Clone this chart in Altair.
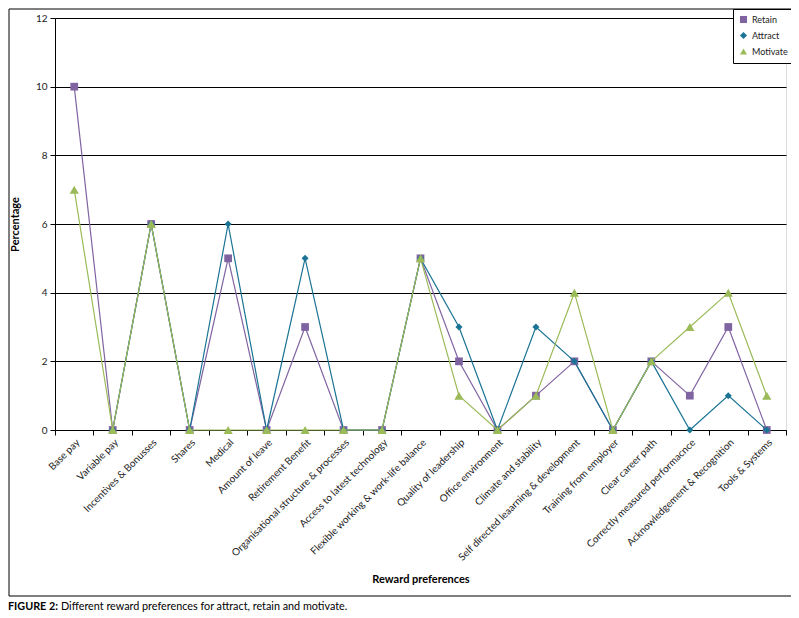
import altair as alt
import pandas as pd
import numpy as np

categories = [
    "Base pay", "Variable pay", "Incentives & Bonusses", "Shares", "Medical",
    "Amount of leave", "Retirement Benefit", "Organisational structure & processes",
    "Access to latest technology", "Flexible working & work-life balance",
    "Quality of leadership", "Office environment", "Climate and stability",
    "Self directed leaarning & development", "Training from employer",
    "Clear career path", "Correctly measured performacnce",
    "Acknowledgement & Recognition", "Tools & Systems",
]
retain = [10, 0, 6, 0, 5, 0, 3, 0, 0, 5, 2, 0, 1, 2, 0, 2, 1, 3, 0]
attract = [None, 0, 6, 0, 6, 0, 5, 0, 0, 5, 3, 0, 3, 2, 0, 2, 0, 1, 0]
motivate = [7, 0, 6, 0, 0, 0, 0, 0, 0, 5, 1, 0, 1, 4, 0, 2, 3, 4, 1]

series_names = ["Retain", "Attract", "Motivate"]
series_colors = ["#8064A2", "#1B7494", "#9BBB59"]
series_shapes = ["square", "diamond", "triangle-up"]
marker_sizes = [60, 50, 85]

rows = []
for name, vals in zip(series_names, [retain, attract, motivate]):
    for i, (c, v) in enumerate(zip(categories, vals)):
        rows.append({"category": c, "series": name, "value": (np.nan if v is None else v)})
df = pd.DataFrame(rows)

FONT = "Lato"
W, H = 731, 412

x_enc = alt.X("category:N", sort=categories,
              scale=alt.Scale(type="band", paddingInner=0, paddingOuter=0),
              axis=alt.Axis(title="Reward preferences", tickBand="extent", labelAngle=-45,
                            labelFontSize=10, labelColor="#222", labelFont=FONT,
                            tickColor="black", tickSize=5, domainColor="black",
                            labelPadding=2, labelLimit=300,
                            titleFont=FONT, titleFontSize=11, titleFontWeight="bold",
                            titleColor="black", titleY=149, titleBaseline="middle"))
y_enc = alt.Y("value:Q", scale=alt.Scale(domain=[0, 12], nice=False),
              axis=alt.Axis(title="Percentage", values=[0, 2, 4, 6, 8, 10, 12], format="d",
                            grid=True, gridColor="black", gridOpacity=1, gridWidth=1,
                            domainColor="black", tickColor="black", tickSize=5,
                            labelFontSize=10, labelColor="#222", labelFont=FONT, labelPadding=3,
                            titleFont=FONT, titleFontSize=11, titleFontWeight="bold",
                            titleColor="black", titleX=-35))

color_enc = alt.Color("series:N", scale=alt.Scale(domain=series_names, range=series_colors),
                      legend=alt.Legend(orient="none", legendX=678, legendY=-9, title=None,
                                        strokeColor="black", fillColor="white", padding=6,
                                        labelFontSize=9, labelFont=FONT, labelColor="#222",
                                        symbolSize=50, rowPadding=6, symbolStrokeWidth=0))
shape_enc = alt.Shape("series:N", scale=alt.Scale(domain=series_names, range=series_shapes))

layers = []
for name, msize in zip(series_names, marker_sizes):
    sub = df[df["series"] == name]
    base = alt.Chart(sub)
    line = base.mark_line(strokeWidth=1.2).encode(x=x_enc, y=y_enc, color=color_enc)
    pts = base.mark_point(filled=True, size=msize, opacity=1).encode(
        x=x_enc, y=y_enc, color=color_enc, shape=shape_enc)
    layers += [line, pts]

one = pd.DataFrame({"a": [0]})
border = alt.Chart(one).mark_rect(fill=None, stroke="black", strokeWidth=1).encode(
    x=alt.value(-46), x2=alt.value(742), y=alt.value(-9), y2=alt.value(578))
cap_bold = alt.Chart(one).mark_text(align="left", baseline="middle", font=FONT, fontSize=10.8,
                                    fontWeight="bold", color="black").encode(
    x=alt.value(-47), y=alt.value(589), text=alt.value("FIGURE 2:"))
cap_rest = alt.Chart(one).mark_text(align="left", baseline="middle", font=FONT, fontSize=10.8,
                                    color="black").encode(
    x=alt.value(6), y=alt.value(589),
    text=alt.value("Different reward preferences for attract, retain and motivate."))

chart = alt.layer(border, *layers, cap_bold, cap_rest).properties(
    width=W, height=H,
    autosize=alt.AutoSizeParams(type="none"),
    padding={"left": 47, "top": 10, "right": 5, "bottom": 190},
).configure_view(stroke="black", strokeWidth=1).configure(background="white")

chart.save("out.html", embed_options={"renderer": "svg", "actions": False})
